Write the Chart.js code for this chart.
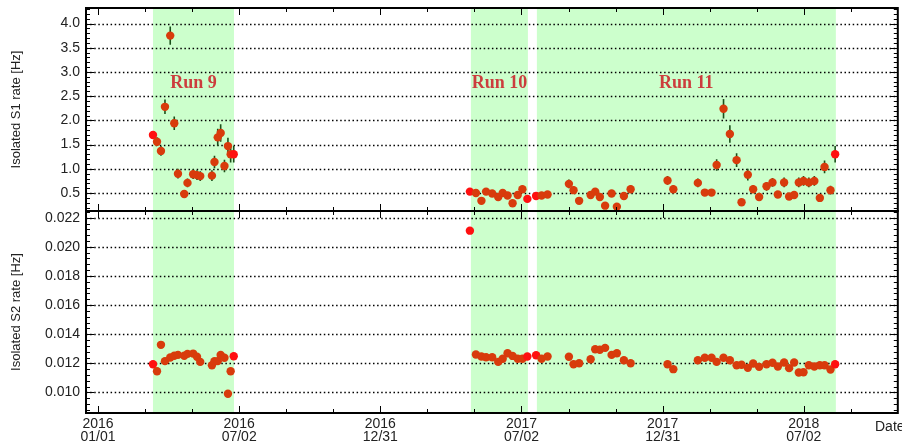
<!DOCTYPE html>
<html>
<head>
<meta charset="utf-8">
<script src="https://cdn.jsdelivr.net/npm/chart.js@4.4.1/dist/chart.umd.min.js"></script>
<style>
html, body { margin: 0; padding: 0; background: #fff; }
#wrap { position: relative; width: 902px; height: 443px; overflow: hidden; }
#c1 { position: absolute; left: 0; top: 0; }
#c2 { position: absolute; left: 0; top: 200px; }
</style>
</head>
<body>
<div id="wrap">
  <canvas id="c1" width="902" height="220"></canvas>
  <canvas id="c2" width="902" height="243"></canvas>
</div>
<script>
// x values: days since 2016-01-01
var days = [71.1, 76.3, 81.4, 86.6, 93.4, 98.6, 103.4, 111.5, 115.7, 123.0, 128.0, 132.2, 147.3, 150.6, 154.8, 158.6, 163.5, 168.0, 171.5, 175.5,
  480.8, 488.6, 495.7, 501.7, 509.6, 517.4, 523.2, 529.5, 536.0, 542.6, 548.7, 555.1,
  566.4, 573.5, 581.2, 608.8, 614.8, 622.0, 636.9, 642.8, 648.8, 655.6, 664.0, 670.8, 679.9, 688.6, 736.3, 743.8,
  775.5, 784.5, 793.2, 799.8, 808.7, 816.9, 825.6, 832.0, 840.1, 847.0, 854.7, 864.3, 872.0, 878.9, 887.0, 893.5,
  900.0, 906.0, 912.1, 919.0, 926.1, 933.2, 939.3, 947.0, 953.0];

var s1Rate = [1.70, 1.56, 1.37, 2.28, 3.75, 1.94, 0.90, 0.48, 0.71, 0.89, 0.87, 0.85, 0.86, 1.14, 1.65, 1.74, 1.06, 1.47, 1.30, 1.30,
  0.53, 0.50, 0.34, 0.53, 0.49, 0.42, 0.50, 0.45, 0.29, 0.46, 0.58, 0.38,
  0.44, 0.45, 0.47, 0.69, 0.56, 0.34, 0.46, 0.53, 0.42, 0.24, 0.49, 0.22, 0.44, 0.58, 0.76, 0.58,
  0.71, 0.51, 0.51, 1.08, 2.24, 1.72, 1.18, 0.31, 0.88, 0.58, 0.42, 0.64, 0.72, 0.47, 0.72, 0.43,
  0.46, 0.72, 0.75, 0.72, 0.75, 0.40, 1.04, 0.56, 1.30];

var s1Err = [0.08, 0.09, 0.10, 0.15, 0.19, 0.14, 0.10, 0.08, 0.09, 0.10, 0.10, 0.10, 0.11, 0.13, 0.18, 0.18, 0.13, 0.17, 0.17, 0.17,
  0.05, 0.05, 0.05, 0.06, 0.05, 0.05, 0.06, 0.05, 0.05, 0.06, 0.07, 0.06,
  0.06, 0.06, 0.06, 0.09, 0.08, 0.06, 0.06, 0.07, 0.06, 0.05, 0.07, 0.05, 0.06, 0.08, 0.09, 0.08,
  0.09, 0.07, 0.07, 0.12, 0.20, 0.18, 0.14, 0.06, 0.12, 0.08, 0.07, 0.09, 0.09, 0.07, 0.10, 0.07,
  0.07, 0.10, 0.10, 0.10, 0.10, 0.07, 0.13, 0.09, 0.17];

var s2Rate = [0.01194, 0.01146, 0.01327, 0.01215, 0.01240, 0.01252, 0.01258, 0.01252, 0.01265, 0.01267, 0.01245, 0.01210, 0.01187, 0.01215, 0.01215, 0.01258, 0.01238, 0.00991, 0.01146, 0.01249,
  0.02111, 0.01261, 0.01247, 0.01242, 0.01242, 0.01210, 0.01231, 0.01269, 0.01251, 0.01231, 0.01231, 0.01247,
  0.01256, 0.01231, 0.01247, 0.01245, 0.01194, 0.01201, 0.01228, 0.01297, 0.01293, 0.01306, 0.01258, 0.01269, 0.01221, 0.01201, 0.01194, 0.01160,
  0.01221, 0.01238, 0.01238, 0.01210, 0.01238, 0.01221, 0.01187, 0.01190, 0.01169, 0.01199, 0.01176, 0.01194, 0.01204, 0.01178, 0.01206, 0.01167,
  0.01206, 0.01137, 0.01139, 0.01187, 0.01178, 0.01187, 0.01187, 0.01158, 0.01194];

var runNames = ['Run 9', 'Run 10', 'Run 11'];
var runStart = [71.1, 482.1, 567.4];
var runEnd = [175.8, 555.8, 953.9];

var xTickDays = [0, 182.5, 365, 547.5, 730, 912.5];
var xTickLabels = [['2016', '01/01'], ['2016', '07/02'], ['2016', '12/31'], ['2017', '07/02'], ['2017', '12/31'], ['2018', '07/02']];
var s1Ticks = [0.5, 1.0, 1.5, 2.0, 2.5, 3.0, 3.5, 4.0];
var s2Ticks = [0.010, 0.012, 0.014, 0.016, 0.018, 0.020, 0.022];

Chart.defaults.font.family = "'Liberation Sans', Arial, sans-serif";
Chart.defaults.color = '#222';

// first and last point of each run are drawn in bright red
var edge = days.map(function () { return false; });
runStart.forEach(function (s, r) {
  var idx = [];
  days.forEach(function (d, i) { if (d >= s - 3 && d <= runEnd[r] + 3) idx.push(i); });
  if (idx.length) { edge[idx[0]] = true; edge[idx[idx.length - 1]] = true; }
});
var pointColors = edge.map(function (e) { return e ? '#ff1010' : '#d83b0c'; });

var panelPlugin = {
  id: 'panel',
  beforeDraw: function (chart) {
    var o = chart.options.plugins.panel;
    var ctx = chart.ctx, a = chart.chartArea, xs = chart.scales.x, ys = chart.scales.y;
    ctx.save();
    ctx.fillStyle = '#ccffcc';
    runStart.forEach(function (s, r) {
      var x0 = xs.getPixelForValue(s), x1 = xs.getPixelForValue(runEnd[r]);
      ctx.fillRect(x0, a.top, x1 - x0, a.bottom - a.top);
    });
    ctx.strokeStyle = '#000';
    ctx.lineWidth = 1.5;
    ctx.setLineDash([1.5, 2.6]);
    o.ticks.forEach(function (v) {
      var py = Math.round(ys.getPixelForValue(v)) + 0.5;
      ctx.beginPath();
      ctx.moveTo(a.left, py);
      ctx.lineTo(a.right, py);
      ctx.stroke();
    });
    ctx.restore();
  },
  beforeDatasetsDraw: function (chart) {
    var o = chart.options.plugins.panel;
    var ctx = chart.ctx, xs = chart.scales.x, ys = chart.scales.y;
    ctx.save();
    if (o.errors) {
      ctx.strokeStyle = '#1a4f1a';
      ctx.lineWidth = 1.6;
      ctx.beginPath();
      o.values.forEach(function (v, i) {
        var px = xs.getPixelForValue(days[i]);
        ctx.moveTo(px, ys.getPixelForValue(v - o.errors[i]));
        ctx.lineTo(px, ys.getPixelForValue(v + o.errors[i]));
      });
      ctx.stroke();
    }
    if (o.runLabels) {
      ctx.fillStyle = '#cc3d3d';
      ctx.font = "bold 18px 'Liberation Serif', 'Times New Roman', serif";
      ctx.textAlign = 'center';
      ctx.textBaseline = 'middle';
      runNames.forEach(function (name, r) {
        var px = xs.getPixelForValue((runStart[r] + runEnd[r]) / 2);
        ctx.fillText(name, px, 83);
      });
    }
    ctx.restore();
  },
  afterDraw: function (chart) {
    var o = chart.options.plugins.panel;
    var ctx = chart.ctx, a = chart.chartArea, xs = chart.scales.x, ys = chart.scales.y;
    ctx.save();
    ctx.strokeStyle = '#000';
    ctx.lineWidth = 1;
    ctx.setLineDash([]);
    ctx.beginPath();
    var step = (xTickDays[1] - xTickDays[0]) / 3;
    for (var k = -3; k < 30; k++) {
      var d = xTickDays[0] + k * step;
      if (d < xs.min || d > xs.max) continue;
      var px = Math.round(xs.getPixelForValue(d)) + 0.5;
      var len = (k % 3 === 0) ? 7 : 4;
      ctx.moveTo(px, a.top); ctx.lineTo(px, a.top + len);
      ctx.moveTo(px, a.bottom); ctx.lineTo(px, a.bottom - len);
    }
    var n0 = Math.ceil(ys.min / o.minorStep), n1 = Math.floor(ys.max / o.minorStep);
    for (var n = n0; n <= n1; n++) {
      var py = Math.round(ys.getPixelForValue(n * o.minorStep)) + 0.5;
      var l = (n % 5 === 0) ? 8 : 4;
      ctx.moveTo(a.left, py); ctx.lineTo(a.left + l, py);
      ctx.moveTo(a.right, py); ctx.lineTo(a.right - l, py);
    }
    ctx.stroke();
    ctx.lineWidth = 2;
    ctx.strokeRect(a.left, a.top, a.right - a.left, a.bottom - a.top);
    if (o.xTitle) {
      ctx.fillStyle = '#222';
      ctx.font = "14px 'Liberation Sans', Arial, sans-serif";
      ctx.textAlign = 'left';
      ctx.textBaseline = 'alphabetic';
      ctx.fillText(o.xTitle, 875, 231);
    }
    ctx.restore();
  }
};

function xScale(show) {
  return {
    type: 'linear',
    display: show,
    min: -15.5,
    max: 1034,
    afterBuildTicks: function (s) { s.ticks = xTickDays.map(function (v) { return { value: v }; }); },
    afterFit: function (s) {
      s.height = show ? 30 : 0;
      s.paddingLeft = 0; s.paddingRight = 0;
    },
    grid: { display: false, drawTicks: false },
    border: { display: false },
    ticks: {
      autoSkip: false,
      maxRotation: 0,
      padding: 4,
      color: '#222',
      font: { size: 14, lineHeight: 0.95 },
      callback: function (v) { return xTickLabels[xTickDays.indexOf(v)]; }
    }
  };
}

function yScale(min, max, ticks, digits, title) {
  return {
    min: min,
    max: max,
    afterBuildTicks: function (s) { s.ticks = ticks.map(function (v) { return { value: v }; }); },
    afterFit: function (s) {
      s.width = 86;
      s.paddingTop = 0; s.paddingBottom = 0;
    },
    grid: { display: false, drawTicks: false },
    border: { display: false },
    ticks: {
      padding: 6,
      color: '#222',
      font: { size: 14 },
      callback: function (v) { return v.toFixed(digits); }
    },
    title: { display: true, text: title, color: '#222', font: { size: 13 }, padding: { top: 9, bottom: 0 } }
  };
}

function makeChart(id, values, opts) {
  return new Chart(document.getElementById(id), {
    type: 'scatter',
    data: {
      datasets: [{
        data: values.map(function (v, i) { return { x: days[i], y: v }; }),
        pointRadius: 4.2,
        pointBorderWidth: 0,
        pointBackgroundColor: pointColors,
        pointHoverRadius: 4.2
      }]
    },
    options: {
      responsive: false,
      animation: false,
      events: [],
      layout: { padding: opts.padding },
      scales: { x: xScale(opts.showX), y: opts.y },
      plugins: { legend: { display: false }, tooltip: { enabled: false }, panel: opts.panel }
    },
    plugins: [panelPlugin]
  });
}

makeChart('c1', s1Rate, {
  padding: { left: 0, right: 4, top: 8, bottom: 9 },
  showX: false,
  y: yScale(0.13, 4.32, s1Ticks, 1, 'Isolated S1 rate [Hz]'),
  panel: { ticks: s1Ticks, minorStep: 0.1, values: s1Rate, errors: s1Err, runLabels: true }
});

makeChart('c2', s2Rate, {
  padding: { left: 0, right: 4, top: 11, bottom: 0 },
  showX: true,
  y: yScale(0.00859, 0.02246, s2Ticks, 3, 'Isolated S2 rate [Hz]'),
  panel: { ticks: s2Ticks, minorStep: 0.0004, values: s2Rate, errors: null, runLabels: false, xTitle: 'Date' }
});
</script>
</body>
</html>
